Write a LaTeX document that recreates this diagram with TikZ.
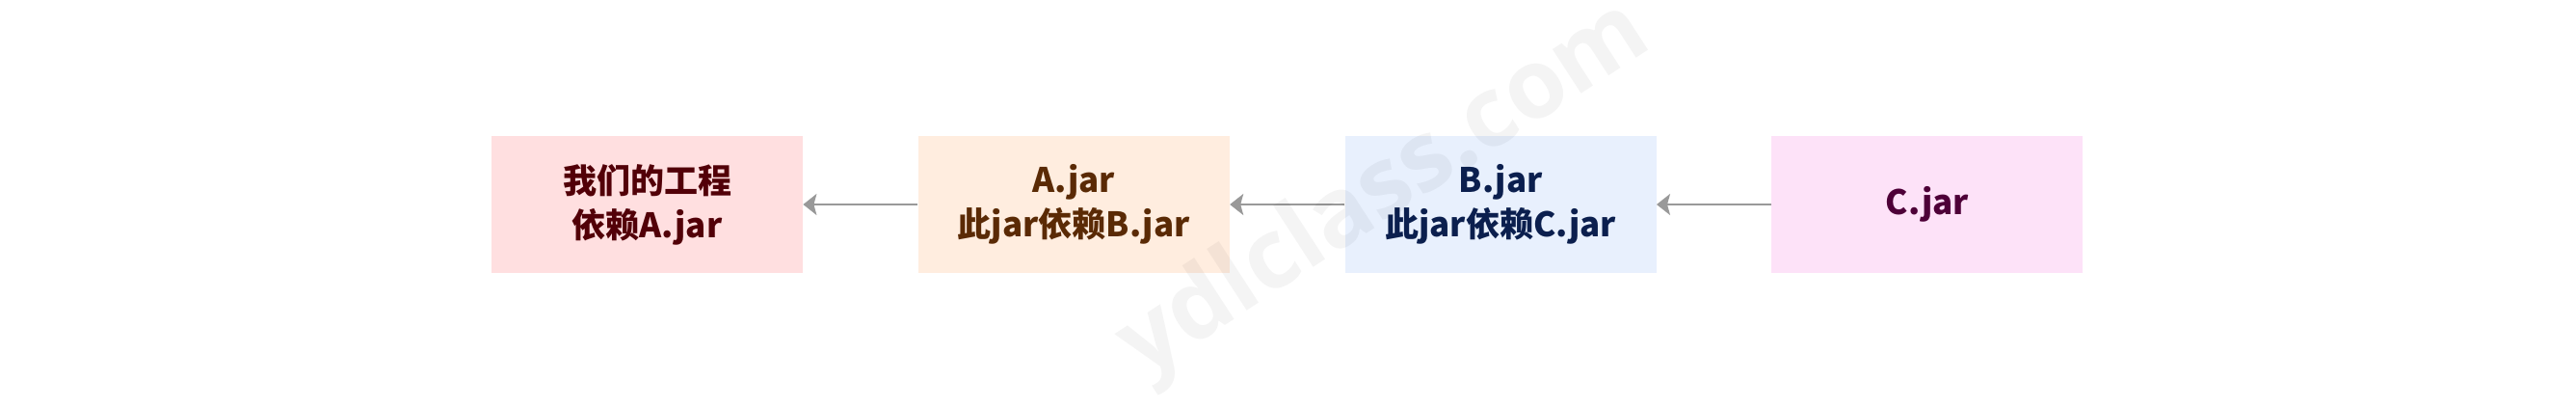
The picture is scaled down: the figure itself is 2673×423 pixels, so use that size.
\documentclass[tikz,border=0pt]{standalone}
\usepackage{fontspec}
\newfontfamily\cjkbold{Noto Sans CJK SC Black}
\newfontfamily\markfont{Open Sans}
\usetikzlibrary{positioning,arrows.meta}

% Colours of the boxes and their texts
\definecolor{projfill}{HTML}{FFDFE0}
\definecolor{projtext}{HTML}{520008}
\definecolor{afill}{HTML}{FFEDDF}
\definecolor{atext}{HTML}{5A2A05}
\definecolor{bfill}{HTML}{E8F0FD}
\definecolor{btext}{HTML}{0B1F4E}
\definecolor{cfill}{HTML}{FDE2F8}
\definecolor{ctext}{HTML}{4E0038}
\definecolor{deparrow}{HTML}{999999}

\tikzset{
    jarbox/.style={minimum width=161.5pt, minimum height=71pt, inner sep=0pt,
        align=center, font={\cjkbold\fontsize{17.5pt}{23pt}\selectfont}},
    dep/.style={-{Stealth[length=7pt, width=11pt, inset=1.5pt]}, deparrow, line width=1pt}
}

\begin{document}
\begin{tikzpicture}[x=0.5pt, y=-0.5pt, node distance=59.5pt]
    \useasboundingbox (0,0) rectangle (2673,423);

    % Define the boxes
    \node[jarbox, fill=projfill, text=projtext] (proj) at (671.5,212) {我们的工程\\依赖A.jar};
    \node[jarbox, fill=afill, text=atext, right=of proj] (ajar) {A.jar\\此jar依赖B.jar};
    \node[jarbox, fill=bfill, text=btext, right=of ajar] (bjar) {B.jar\\此jar依赖C.jar};
    \node[jarbox, fill=cfill, text=ctext, right=of bjar] (cjar) {C.jar};

    % Draw dependencies
    \draw[dep] (ajar) -- (proj);
    \draw[dep] (bjar) -- (ajar);
    \draw[dep] (cjar) -- (bjar);

    % Watermark
    \node[rotate=33, text=black, opacity=0.045, font={\markfont\bfseries\fontsize{50pt}{50pt}\selectfont}] (mark) at (1438,198) {ydlclass.com};
\end{tikzpicture}
\end{document}
